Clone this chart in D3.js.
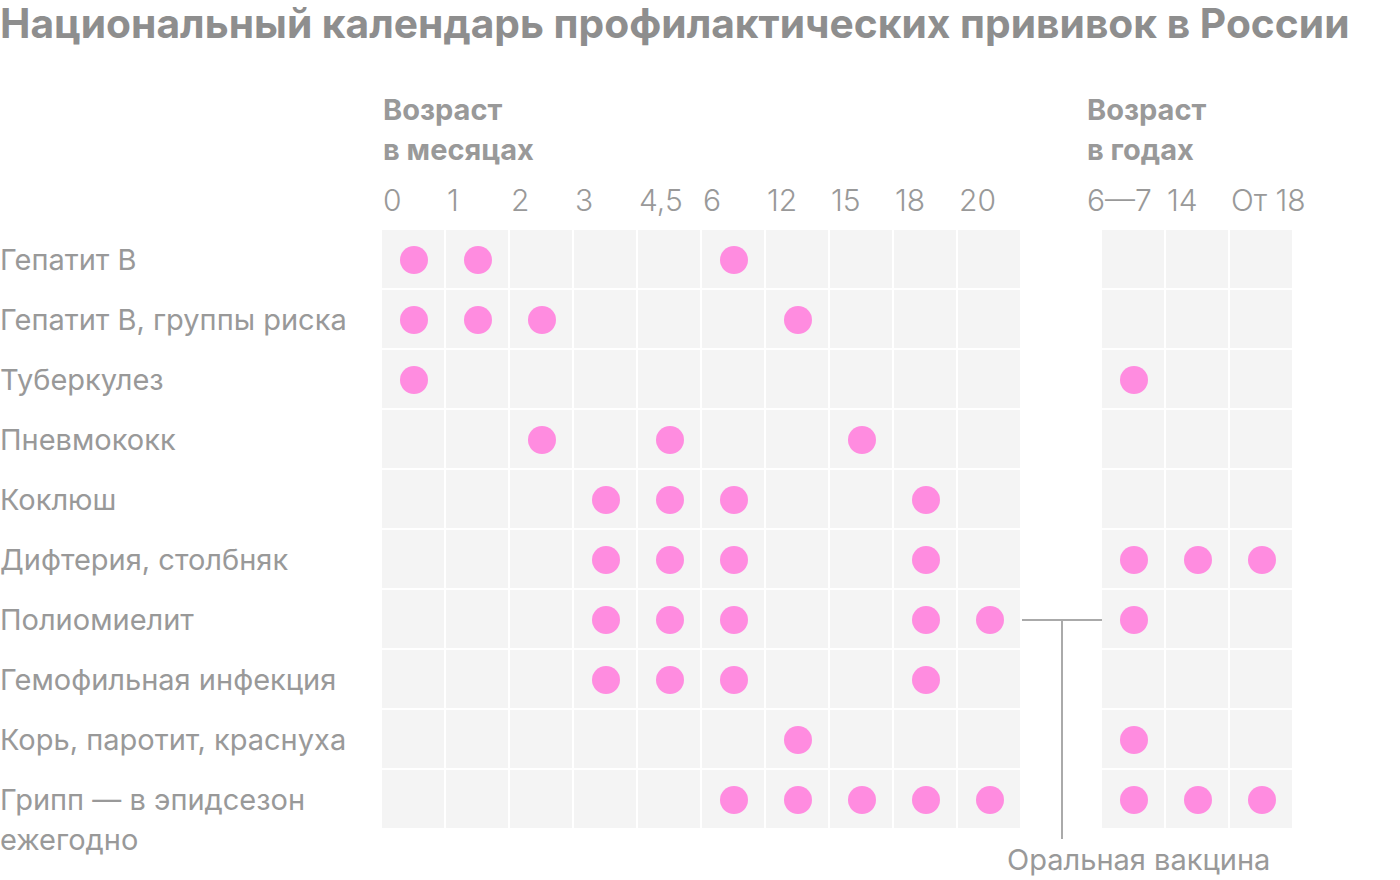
<!DOCTYPE html>
<html><head><meta charset="utf-8">
<script src="https://cdn.jsdelivr.net/npm/d3@7"></script>
<style>
html,body{margin:0;padding:0;background:#fff;}
svg{display:block;font-family:Inter,Roboto,"Noto Sans",sans-serif;}
</style></head>
<body><svg id="chart" width="1400" height="880"></svg>
<script>
const title = "Национальный календарь профилактических прививок в России";
const monthTicks = ["0","1","2","3","4,5","6","12","15","18","20"];
const yearTicks = ["6—7","14","От 18"];
const monthHeader = ["Возраст","в месяцах"];
const yearHeader = ["Возраст","в годах"];
const vaccines = ["Гепатит В","Гепатит В, группы риска","Туберкулез","Пневмококк","Коклюш","Дифтерия, столбняк","Полиомиелит","Гемофильная инфекция","Корь, паротит, краснуха","Грипп — в эпидсезон ежегодно"];
const vaccineLabelLines = [["Гепатит В"],["Гепатит В, группы риска"],["Туберкулез"],["Пневмококк"],["Коклюш"],["Дифтерия, столбняк"],["Полиомиелит"],["Гемофильная инфекция"],["Корь, паротит, краснуха"],["Грипп — в эпидсезон","ежегодно"]];
const monthDoses = [
  ["0","1","6"],
  ["0","1","2","12"],
  ["0"],
  ["2","4,5","15"],
  ["3","4,5","6","18"],
  ["3","4,5","6","18"],
  ["3","4,5","6","18","20"],
  ["3","4,5","6","18"],
  ["12"],
  ["6","12","15","18","20"]
];
const yearDoses = [
  [],
  [],
  ["6—7"],
  [],
  [],
  ["6—7","14","От 18"],
  ["6—7"],
  [],
  ["6—7"],
  ["6—7","14","От 18"]
];
const annotationRow = "Полиомиелит";
const annotationText = "Оральная вакцина";

const svg = d3.select("#chart");
const gap = 2;
const textColor = "#999999";
const cellColor = "#f4f4f4";
const dotColor = "#ff8ce0";

const xM = d3.scaleBand().domain(monthTicks).range([382, 1022]);
const xY = d3.scaleBand().domain(yearTicks).range([1102, 1294]);
const y = d3.scaleBand().domain(vaccines).range([230, 830]);

// fit a text element's font size to a target width
function fit(sel, size, target) {
  const w = sel.node().getBBox().width;
  sel.attr("font-size", size * target / w);
}

// Title
const t = svg.append("text").attr("x", 0).attr("y", 38)
  .attr("font-size", 40).attr("font-weight", 700).attr("fill", "#8e8e8e").text(title);
fit(t, 40, 1350);

// Headers
function header(lines, x) {
  const g = svg.append("text").attr("x", x).attr("font-size", 29).attr("font-weight", 700).attr("fill", textColor);
  lines.forEach((l, i) => g.append("tspan").attr("x", x).attr("y", 120 + i * 40).text(l));
  return g;
}
header(monthHeader, 383);
header(yearHeader, 1087);

// Tick labels
svg.append("g").selectAll("text").data(monthTicks).join("text")
  .attr("x", d => xM(d) + 1).attr("y", 211)
  .attr("font-size", 30).attr("font-weight", 300).attr("fill", textColor).text(d => d);
svg.append("g").selectAll("text").data(yearTicks).join("text")
  .attr("x", (d, i) => i === 0 ? xY(d) - 15 : xY(d) + 1).attr("y", 211)
  .attr("font-size", 30).attr("font-weight", 300).attr("fill", textColor).text(d => d);

// Cells
const cells = [];
vaccines.forEach(v => {
  monthTicks.forEach(m => cells.push({x: xM(m), w: xM.bandwidth(), y: y(v)}));
  yearTicks.forEach(m => cells.push({x: xY(m), w: xY.bandwidth(), y: y(v)}));
});
svg.append("g").selectAll("rect").data(cells).join("rect")
  .attr("x", d => d.x).attr("y", d => d.y)
  .attr("width", d => d.w - gap).attr("height", y.bandwidth() - gap)
  .attr("fill", cellColor);

// Row labels
vaccines.forEach((v, i) => {
  const lines = vaccineLabelLines[i];
  const tx = svg.append("text").attr("font-size", 29).attr("fill", textColor);
  lines.forEach((l, j) => tx.append("tspan").attr("x", 0)
    .attr("y", y(v) + y.bandwidth() / 2 + j * 40).attr("dy", "0.35em").text(l));
});

// Dots
const dots = [];
vaccines.forEach((v, i) => {
  monthDoses[i].forEach(m => dots.push({cx: xM(m) + xM.bandwidth() / 2, cy: y(v) + y.bandwidth() / 2}));
  yearDoses[i].forEach(m => dots.push({cx: xY(m) + xY.bandwidth() / 2, cy: y(v) + y.bandwidth() / 2}));
});
svg.append("g").selectAll("circle").data(dots).join("circle")
  .attr("cx", d => d.cx).attr("cy", d => d.cy).attr("r", 14).attr("fill", dotColor);

// Annotation
const ay = y(annotationRow) + y.bandwidth() / 2;
const ax1 = xM.range()[1], ax2 = xY.range()[0];
const amid = (ax1 + ax2) / 2;
const ag = svg.append("g").attr("stroke", "#aaaaaa").attr("stroke-width", 2).attr("fill", "none");
ag.append("line").attr("x1", ax1).attr("x2", ax2).attr("y1", ay).attr("y2", ay);
ag.append("line").attr("x1", amid).attr("x2", amid).attr("y1", ay).attr("y2", 839);
svg.append("text").attr("x", 1007).attr("y", 870).attr("font-size", 29).attr("fill", textColor).text(annotationText);
</script></body></html>
